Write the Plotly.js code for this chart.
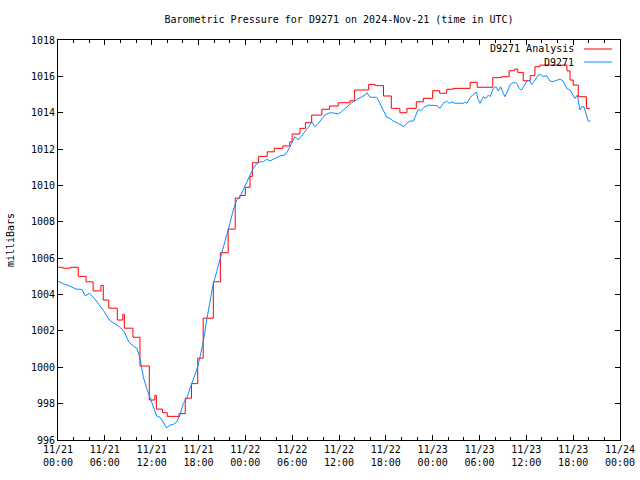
<!DOCTYPE html>
<html>
<head>
<meta charset="utf-8">
<script src="https://cdn.plot.ly/plotly-3.0.1.min.js"></script>
<style>html,body{margin:0;padding:0;background:#fff;}#chart{width:640px;height:480px;}</style>
</head>
<body>
<div id="chart"></div>
<script>
// ---- data (hours after 2024-11-21 00:00 UTC) ----
var redHours = [0,0.6,1.6,2.6,3.6,4.5,5.5,5.8,6.5,7.6,8.3,8.5,9.6,10.5,11.7,12.4,12.6,13.4,14.0,15.5,16.3,17.1,17.9,18.6,19.9,20.8,21.8,22.7,23.3,24.0,24.6,24.9,25.7,26.8,27.7,28.8,29.7,30.0,31.0,31.7,32.5,33.8,34.8,35.9,37.4,38.0,39.8,40.6,41.7,42.7,43.8,44.7,45.9,46.8,48.0,48.9,49.8,50.6,52.8,53.7,55.7,56.8,57.8,58.5,58.9,59.6,60.5,61.1,61.75,65.2,65.6,66.0,66.65,67.7,68.15];
var redValues = [1005.5,1005.45,1005.5,1005.0,1004.7,1004.2,1004.5,1003.7,1003.25,1002.6,1002.9,1002.15,1001.65,1000.07,998.2,998.45,997.7,997.5,997.3,997.45,998.3,999.1,1000.5,1002.7,1004.7,1006.3,1007.6,1009.3,1009.45,1009.9,1010.5,1011.25,1011.6,1011.85,1012.04,1012.17,1012.4,1012.83,1013.14,1013.45,1013.87,1014.19,1014.37,1014.55,1014.66,1015.25,1015.56,1015.49,1014.92,1014.24,1014.0,1014.24,1014.6,1014.79,1015.21,1015.07,1015.29,1015.34,1015.67,1015.4,1015.93,1015.98,1016.31,1016.4,1016.22,1015.76,1016.04,1016.53,1016.62,1016.3,1015.8,1015.52,1014.88,1014.24,1014.24];

var blueHours = [0,0.6,1.24,2.31,3.07,3.5,4.01,4.65,5.29,5.93,6.57,7.21,7.85,8.49,9.06,9.65,10.12,10.5,10.93,11.36,11.79,12.21,12.64,13.07,13.49,13.93,14.35,14.77,15.21,15.63,16.05,16.49,16.91,17.33,17.77,18.19,18.61,19.05,19.47,19.9,20.33,20.75,21.18,21.61,22.03,22.46,22.89,23.32,23.74,24.17,24.6,25.02,25.46,25.88,26.3,26.74,27.16,27.8,28.44,29.08,29.5,29.94,30.36,30.78,31.22,31.64,32.07,32.5,32.92,33.35,33.78,34.2,34.63,35.06,35.49,35.91,36.34,36.77,37.19,37.63,38.05,38.47,38.91,39.33,39.59,39.97,40.83,41.03,41.47,41.76,42.11,42.53,42.95,43.59,44.03,44.32,44.67,45.09,45.52,45.73,46.16,46.47,46.89,47.44,48.51,48.94,49.36,49.8,50.13,50.44,50.86,51.92,52.14,52.36,52.78,53.21,53.62,53.81,54.07,54.48,54.83,55.13,55.34,55.77,56.11,56.41,56.71,57.05,57.26,57.56,57.9,58.32,58.76,59.09,59.4,59.83,60.04,60.38,60.68,61.11,61.53,61.84,62.17,62.61,63.03,63.45,63.89,64.31,64.73,65.17,65.59,65.81,66.23,66.53,66.66,66.87,67.09,67.38,67.64,67.93,68.24];
var blueValues = [1004.74,1004.6,1004.52,1004.3,1004.28,1003.92,1004.07,1003.8,1003.42,1003.06,1002.6,1002.42,1002.23,1001.96,1001.4,1001.17,1001.04,1000.5,999.48,998.84,998.29,997.87,997.32,997.25,997.0,996.67,996.82,996.86,997.0,997.37,998.02,998.29,998.84,999.3,999.85,1000.55,1001.4,1002.6,1003.7,1004.62,1005.26,1005.9,1006.54,1007.18,1007.92,1008.65,1009.2,1009.38,1009.75,1010.12,1010.57,1010.95,1011.2,1011.3,1011.3,1011.44,1011.35,1011.49,1011.62,1011.68,1011.95,1012.32,1012.68,1012.5,1012.72,1012.96,1013.2,1013.5,1013.23,1013.42,1013.64,1013.87,1013.97,1014.0,1013.97,1013.93,1014.06,1014.24,1014.37,1014.55,1014.66,1014.79,1014.88,1014.97,1015.1,1014.85,1014.85,1014.7,1014.33,1014.06,1013.75,1013.69,1013.54,1013.42,1013.32,1013.23,1013.42,1013.54,1013.54,1013.78,1014.19,1014.1,1014.3,1014.42,1014.39,1014.24,1014.52,1014.64,1014.52,1014.6,1014.52,1014.52,1014.6,1014.52,1014.82,1015.01,1015.12,1014.75,1014.52,1014.88,1014.79,1014.97,1014.88,1015.34,1015.43,1015.2,1015.43,1015.07,1014.88,1015.16,1015.52,1015.67,1015.62,1015.34,1015.25,1015.56,1015.71,1015.8,1015.56,1015.8,1016.07,1016.11,1015.98,1016.04,1015.74,1015.71,1015.8,1015.85,1015.74,1015.34,1015.25,1015.07,1014.79,1014.97,1014.7,1014.15,1014.33,1014.33,1013.94,1013.54,1013.54];

var xTickHours = [0,6,12,18,24,30,36,42,48,54,60,66,72];
var xTickLabels = ["11/21<br>00:00","11/21<br>06:00","11/21<br>12:00","11/21<br>18:00","11/22<br>00:00","11/22<br>06:00","11/22<br>12:00","11/22<br>18:00","11/23<br>00:00","11/23<br>06:00","11/23<br>12:00","11/23<br>18:00","11/24<br>00:00"];
var yTicks = [996,998,1000,1002,1004,1006,1008,1010,1012,1014,1016,1018];

var seriesNames = ["D9271 Analysis","D9271"];
var titleText = "Barometric Pressure for D9271 on 2024-Nov-21 (time in UTC)";
var yTitle = "milliBars";

// ---- build ----
var base = Date.UTC(2024,10,21,0,0,0);
function toMs(h){ return base + h*3600000; }

var FONT = "DejaVu Sans Mono, Liberation Mono, monospace";
var RED = "#ff0000", BLUE = "#0a8cff";

var traces = [
  {x: redHours.map(toMs), y: redValues, type:"scatter", mode:"lines", name:seriesNames[0],
   line:{color:RED, width:1, shape:"hv"}, showlegend:false, hoverinfo:"skip"},
  {x: blueHours.map(toMs), y: blueValues, type:"scatter", mode:"lines", name:seriesNames[1],
   line:{color:BLUE, width:1}, showlegend:false, hoverinfo:"skip"}
];

var layout = {
  width:640, height:480,
  margin:{l:58, r:20, t:40, b:40},
  paper_bgcolor:"#fff", plot_bgcolor:"#fff",
  font:{family:FONT, size:10, color:"#000"},
  title:{text:titleText, font:{family:FONT, size:10, color:"#000"}, x:339/640, xanchor:"center", y:1-19/480, yanchor:"middle", yref:"container"},
  xaxis:{type:"date", range:[toMs(0), toMs(72)], tickmode:"array",
    tickvals:xTickHours.map(toMs), ticktext:xTickLabels,
    showgrid:false, zeroline:false, showline:true, linecolor:"#000", linewidth:1, mirror:"ticks",
    ticks:"inside", ticklen:5, tickcolor:"#000", tickwidth:1,
    minor:{ticks:"inside", ticklen:3, tickcolor:"#000", dtick:2*3600000, tick0:toMs(0)},
    tickfont:{family:FONT, size:10, color:"#000"}, fixedrange:true, automargin:false},
  yaxis:{range:[996,1018], tickmode:"array", tickvals:yTicks, ticktext:yTicks.map(String),
    showgrid:false, zeroline:false, showline:true, linecolor:"#000", linewidth:1, mirror:"ticks",
    ticks:"inside", ticklen:5, tickcolor:"#000", tickwidth:1,
    tickfont:{family:FONT, size:10, color:"#000"}, automargin:false, fixedrange:true,
    title:{text:yTitle, font:{family:FONT, size:10, color:"#000"}, standoff:14}},
  showlegend:false,
  annotations:[
    {xref:"paper", yref:"paper", x:(576-58)/562, y:(440-49)/400, xanchor:"right", yanchor:"middle", text:seriesNames[0], showarrow:false, font:{family:FONT,size:10,color:"#000"}},
    {xref:"paper", yref:"paper", x:(576-58)/562, y:(440-62)/400, xanchor:"right", yanchor:"middle", text:seriesNames[1], showarrow:false, font:{family:FONT,size:10,color:"#000"}}
  ],
  shapes:[
    {type:"line", xref:"paper", yref:"paper", x0:(584-58)/562, x1:(612-58)/562, y0:(440-49)/400, y1:(440-49)/400, line:{color:RED, width:1}},
    {type:"line", xref:"paper", yref:"paper", x0:(584-58)/562, x1:(612-58)/562, y0:(440-62)/400, y1:(440-62)/400, line:{color:BLUE, width:1}}
  ]
};

Plotly.newPlot("chart", traces, layout, {displayModeBar:false, staticPlot:true});
</script>
</body>
</html>
